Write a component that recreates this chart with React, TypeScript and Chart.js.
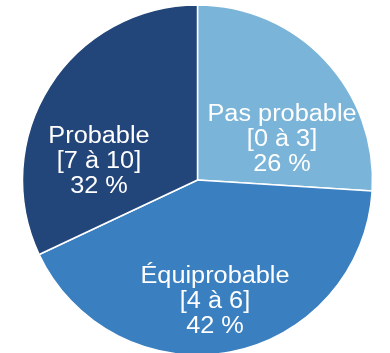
import React, { useEffect, useRef } from "react";
import { Chart, registerables } from "chart.js";

Chart.register(...registerables);

const categories = ["Pas probable", "Équiprobable", "Probable"];
const ranges = ["[0 à 3]", "[4 à 6]", "[7 à 10]"];
const values = [26, 42, 32];
const colors = ["#7AB4D8", "#3A7FBF", "#22457A"];

// label block centres, relative to pie centre, as fraction of radius
const labelAnchors = [
  { x: 0.483, y: -0.24 },
  { x: 0.1, y: 0.686 },
  { x: -0.563, y: -0.114 },
];

const labelPlugin = {
  id: "sliceLabels",
  afterDatasetsDraw(chart: any) {
    const meta = chart.getDatasetMeta(0);
    const ctx = chart.ctx;
    ctx.save();
    ctx.fillStyle = "#FFFFFF";
    ctx.font = "23px 'Liberation Sans', Arial, sans-serif";
    ctx.textAlign = "center";
    ctx.textBaseline = "alphabetic";
    const lh = 25;
    meta.data.forEach((arc: any, i: number) => {
      const R = arc.outerRadius;
      const cx = arc.x + labelAnchors[i].x * R;
      const cy = arc.y + labelAnchors[i].y * R;
      const lines = [categories[i], ranges[i], `${values[i]} %`];
      lines.forEach((t, j) => {
        ctx.save();
        ctx.translate(cx, cy + (j - 1) * lh + 8);
        ctx.scale(1.1, 1);
        ctx.fillText(t, 0, 0);
        ctx.restore();
      });
    });
    ctx.restore();
  },
};

export default function App() {
  const ref = useRef<HTMLCanvasElement>(null);
  useEffect(() => {
    if (!ref.current) return;
    const chart = new Chart(ref.current, {
      type: "pie",
      data: {
        labels: categories,
        datasets: [
          {
            data: values,
            backgroundColor: colors,
            borderColor: "#FFFFFF",
            borderWidth: 1.5,
          },
        ],
      },
      options: {
        responsive: false,
        animation: false,
        radius: 175,
        layout: { padding: { top: 7, bottom: 0, left: 5, right: 0 } },
        plugins: {
          legend: { display: false },
          tooltip: { enabled: false },
        },
      } as any,
      plugins: [labelPlugin],
    });
    return () => chart.destroy();
  }, []);
  return (
    <div style={{ position: "fixed", left: 0, top: 0, width: 390, height: 353, background: "#FFFFFF" }}>
      <canvas ref={ref} width={390} height={353} style={{ width: 390, height: 353, display: "block" }} />
    </div>
  );
}
